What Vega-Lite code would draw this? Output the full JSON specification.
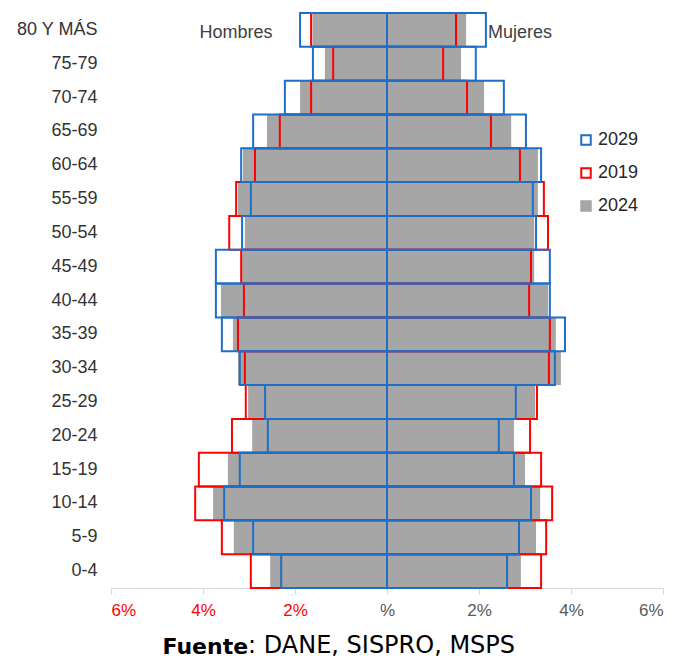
{
  "$schema": "https://vega.github.io/schema/vega-lite/v6.json",
  "width": 552,
  "height": 575,
  "autosize": {"type": "none"},
  "padding": {"left": 111, "top": 13, "right": 15, "bottom": 72},
  "background": "white",
  "config": {"view": {"stroke": null}, "font": "Liberation Sans"},
  "title": {"text": ": DANE, SISPRO, MSPS", "orient": "bottom", "anchor": "start", "frame": "group", "dx": 137, "offset": -23, "font": "DejaVu Sans", "fontSize": 24, "fontWeight": "normal", "color": "black"},
  "data": {"values": [
    {"age": "80 Y MÁS", "sexo": "H", "year": "2024", "v": -1.62}, {"age": "80 Y MÁS", "sexo": "H", "year": "2019", "v": -1.65}, {"age": "80 Y MÁS", "sexo": "H", "year": "2029", "v": -1.89},
    {"age": "80 Y MÁS", "sexo": "M", "year": "2024", "v": 1.72}, {"age": "80 Y MÁS", "sexo": "M", "year": "2019", "v": 1.50}, {"age": "80 Y MÁS", "sexo": "M", "year": "2029", "v": 2.15},
    {"age": "75-79", "sexo": "H", "year": "2024", "v": -1.35}, {"age": "75-79", "sexo": "H", "year": "2019", "v": -1.17}, {"age": "75-79", "sexo": "H", "year": "2029", "v": -1.61},
    {"age": "75-79", "sexo": "M", "year": "2024", "v": 1.61}, {"age": "75-79", "sexo": "M", "year": "2019", "v": 1.22}, {"age": "75-79", "sexo": "M", "year": "2029", "v": 1.93},
    {"age": "70-74", "sexo": "H", "year": "2024", "v": -1.89}, {"age": "70-74", "sexo": "H", "year": "2019", "v": -1.65}, {"age": "70-74", "sexo": "H", "year": "2029", "v": -2.22},
    {"age": "70-74", "sexo": "M", "year": "2024", "v": 2.11}, {"age": "70-74", "sexo": "M", "year": "2019", "v": 1.74}, {"age": "70-74", "sexo": "M", "year": "2029", "v": 2.54},
    {"age": "65-69", "sexo": "H", "year": "2024", "v": -2.61}, {"age": "65-69", "sexo": "H", "year": "2019", "v": -2.33}, {"age": "65-69", "sexo": "H", "year": "2029", "v": -2.91},
    {"age": "65-69", "sexo": "M", "year": "2024", "v": 2.70}, {"age": "65-69", "sexo": "M", "year": "2019", "v": 2.26}, {"age": "65-69", "sexo": "M", "year": "2029", "v": 3.02},
    {"age": "60-64", "sexo": "H", "year": "2024", "v": -3.13}, {"age": "60-64", "sexo": "H", "year": "2019", "v": -2.87}, {"age": "60-64", "sexo": "H", "year": "2029", "v": -3.17},
    {"age": "60-64", "sexo": "M", "year": "2024", "v": 3.28}, {"age": "60-64", "sexo": "M", "year": "2019", "v": 2.89}, {"age": "60-64", "sexo": "M", "year": "2029", "v": 3.35},
    {"age": "55-59", "sexo": "H", "year": "2024", "v": -3.24}, {"age": "55-59", "sexo": "H", "year": "2019", "v": -3.28}, {"age": "55-59", "sexo": "H", "year": "2029", "v": -2.96},
    {"age": "55-59", "sexo": "M", "year": "2024", "v": 3.28}, {"age": "55-59", "sexo": "M", "year": "2019", "v": 3.41}, {"age": "55-59", "sexo": "M", "year": "2029", "v": 3.17},
    {"age": "50-54", "sexo": "H", "year": "2024", "v": -3.09}, {"age": "50-54", "sexo": "H", "year": "2019", "v": -3.43}, {"age": "50-54", "sexo": "H", "year": "2029", "v": -3.15},
    {"age": "50-54", "sexo": "M", "year": "2024", "v": 3.20}, {"age": "50-54", "sexo": "M", "year": "2019", "v": 3.50}, {"age": "50-54", "sexo": "M", "year": "2029", "v": 3.24},
    {"age": "45-49", "sexo": "H", "year": "2024", "v": -3.15}, {"age": "45-49", "sexo": "H", "year": "2019", "v": -3.17}, {"age": "45-49", "sexo": "H", "year": "2029", "v": -3.72},
    {"age": "45-49", "sexo": "M", "year": "2024", "v": 3.20}, {"age": "45-49", "sexo": "M", "year": "2019", "v": 3.13}, {"age": "45-49", "sexo": "M", "year": "2029", "v": 3.54},
    {"age": "40-44", "sexo": "H", "year": "2024", "v": -3.61}, {"age": "40-44", "sexo": "H", "year": "2019", "v": -3.11}, {"age": "40-44", "sexo": "H", "year": "2029", "v": -3.72},
    {"age": "40-44", "sexo": "M", "year": "2024", "v": 3.50}, {"age": "40-44", "sexo": "M", "year": "2019", "v": 3.09}, {"age": "40-44", "sexo": "M", "year": "2029", "v": 3.54},
    {"age": "35-39", "sexo": "H", "year": "2024", "v": -3.35}, {"age": "35-39", "sexo": "H", "year": "2019", "v": -3.24}, {"age": "35-39", "sexo": "H", "year": "2029", "v": -3.59},
    {"age": "35-39", "sexo": "M", "year": "2024", "v": 3.67}, {"age": "35-39", "sexo": "M", "year": "2019", "v": 3.54}, {"age": "35-39", "sexo": "M", "year": "2029", "v": 3.87},
    {"age": "30-34", "sexo": "H", "year": "2024", "v": -3.24}, {"age": "30-34", "sexo": "H", "year": "2019", "v": -3.09}, {"age": "30-34", "sexo": "H", "year": "2029", "v": -3.20},
    {"age": "30-34", "sexo": "M", "year": "2024", "v": 3.78}, {"age": "30-34", "sexo": "M", "year": "2019", "v": 3.52}, {"age": "30-34", "sexo": "M", "year": "2029", "v": 3.65},
    {"age": "25-29", "sexo": "H", "year": "2024", "v": -3.02}, {"age": "25-29", "sexo": "H", "year": "2019", "v": -3.07}, {"age": "25-29", "sexo": "H", "year": "2029", "v": -2.65},
    {"age": "25-29", "sexo": "M", "year": "2024", "v": 3.22}, {"age": "25-29", "sexo": "M", "year": "2019", "v": 3.26}, {"age": "25-29", "sexo": "M", "year": "2029", "v": 2.80},
    {"age": "20-24", "sexo": "H", "year": "2024", "v": -2.93}, {"age": "20-24", "sexo": "H", "year": "2019", "v": -3.37}, {"age": "20-24", "sexo": "H", "year": "2029", "v": -2.59},
    {"age": "20-24", "sexo": "M", "year": "2024", "v": 2.76}, {"age": "20-24", "sexo": "M", "year": "2019", "v": 3.11}, {"age": "20-24", "sexo": "M", "year": "2029", "v": 2.43},
    {"age": "15-19", "sexo": "H", "year": "2024", "v": -3.46}, {"age": "15-19", "sexo": "H", "year": "2019", "v": -4.09}, {"age": "15-19", "sexo": "H", "year": "2029", "v": -3.20},
    {"age": "15-19", "sexo": "M", "year": "2024", "v": 3.00}, {"age": "15-19", "sexo": "M", "year": "2019", "v": 3.35}, {"age": "15-19", "sexo": "M", "year": "2029", "v": 2.76},
    {"age": "10-14", "sexo": "H", "year": "2024", "v": -3.78}, {"age": "10-14", "sexo": "H", "year": "2019", "v": -4.17}, {"age": "10-14", "sexo": "H", "year": "2029", "v": -3.54},
    {"age": "10-14", "sexo": "M", "year": "2024", "v": 3.33}, {"age": "10-14", "sexo": "M", "year": "2019", "v": 3.59}, {"age": "10-14", "sexo": "M", "year": "2029", "v": 3.13},
    {"age": "5-9", "sexo": "H", "year": "2024", "v": -3.33}, {"age": "5-9", "sexo": "H", "year": "2019", "v": -3.59}, {"age": "5-9", "sexo": "H", "year": "2029", "v": -2.91},
    {"age": "5-9", "sexo": "M", "year": "2024", "v": 3.24}, {"age": "5-9", "sexo": "M", "year": "2019", "v": 3.46}, {"age": "5-9", "sexo": "M", "year": "2029", "v": 2.87},
    {"age": "0-4", "sexo": "H", "year": "2024", "v": -2.54}, {"age": "0-4", "sexo": "H", "year": "2019", "v": -2.96}, {"age": "0-4", "sexo": "H", "year": "2029", "v": -2.30},
    {"age": "0-4", "sexo": "M", "year": "2024", "v": 2.91}, {"age": "0-4", "sexo": "M", "year": "2019", "v": 3.35}, {"age": "0-4", "sexo": "M", "year": "2029", "v": 2.61}
  ]},
  "encoding": {
    "y": {
      "field": "age", "type": "ordinal",
      "sort": ["80 Y MÁS", "75-79", "70-74", "65-69", "60-64", "55-59", "50-54", "45-49", "40-44", "35-39", "30-34", "25-29", "20-24", "15-19", "10-14", "5-9", "0-4"],
      "scale": {"paddingInner": 0, "paddingOuter": 0},
      "axis": {"title": null, "domain": false, "ticks": false, "labelFontSize": 18, "labelColor": "#333333", "labelPadding": 14}
    },
    "x": {
      "field": "v", "type": "quantitative", "stack": null,
      "scale": {"domain": [-6, 6]},
      "axis": {
        "values": [-6, -4, -2, 0, 2, 4, 6],
        "labelExpr": "datum.value === 0 ? '%' : abs(datum.value) + '%'",
        "labelColor": {"condition": {"test": "datum.value < 0", "value": "#FF0000"}, "value": "#595959"},
        "labelFontSize": 17, "labelPadding": 8,
        "domainColor": "#D9D9D9", "tickColor": "#D9D9D9", "tickSize": 6, "grid": false,
        "title": "Fuente", "titleFont": "DejaVu Sans", "titleFontSize": 22, "titleFontWeight": "bold", "titleColor": "black",
        "titleAlign": "left", "titleAnchor": "start", "titleX": 51, "titleY": 58, "titleBaseline": "middle"
      }
    }
  },
  "layer": [
    {
      "transform": [{"filter": "datum.year === '2024'"}],
      "mark": {"type": "bar", "strokeWidth": 0},
      "encoding": {
        "fill": {"field": "year", "type": "nominal",
          "scale": {"domain": ["2029", "2019", "2024"], "range": ["transparent", "transparent", "#A6A6A6"]},
          "legend": {"orient": "none", "legendX": 466, "legendY": 118, "title": null, "symbolType": "square", "symbolSize": 90,
            "labelFontSize": 18, "labelColor": "#262626", "rowPadding": 15, "labelOffset": 3, "padding": 0, "symbolStrokeWidth": 2, "symbolOpacity": 1}},
        "stroke": {"field": "year", "type": "nominal",
          "scale": {"domain": ["2029", "2019", "2024"], "range": ["#1F6FC5", "#FF0000", "#A6A6A6"]},
          "legend": {"orient": "none", "legendX": 466, "legendY": 118, "title": null, "symbolType": "square", "symbolSize": 90,
            "labelFontSize": 18, "labelColor": "#262626", "rowPadding": 15, "labelOffset": 3, "padding": 0, "symbolStrokeWidth": 2, "symbolOpacity": 1}}
      }
    },
    {
      "transform": [{"filter": "datum.year === '2019'"}],
      "mark": {"type": "bar", "filled": false, "strokeWidth": 2},
      "encoding": {"stroke": {"field": "year", "type": "nominal"}}
    },
    {
      "transform": [{"filter": "datum.year === '2029'"}],
      "mark": {"type": "bar", "filled": false, "strokeWidth": 2},
      "encoding": {"stroke": {"field": "year", "type": "nominal"}}
    },
    {
      "data": {"values": [{"age": "80 Y MÁS", "v": -3.28, "label": "Hombres"}, {"age": "80 Y MÁS", "v": 2.89, "label": "Mujeres"}]},
      "mark": {"type": "text", "fontSize": 18, "color": "#404040", "dy": 3},
      "encoding": {"text": {"field": "label"}}
    }
  ]
}
